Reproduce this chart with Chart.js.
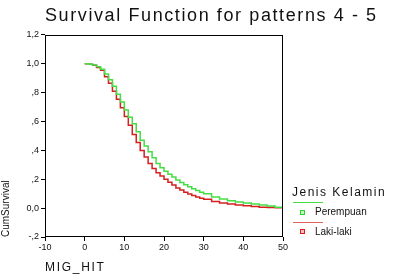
<!DOCTYPE html>
<html>
<head>
<meta charset="UTF-8">
<title>Survival Function</title>
<script src="https://cdn.jsdelivr.net/npm/chart.js"></script>
<style>
    body { margin: 0; background: #fff; }
    .wrap { position: relative; width: 394px; height: 275px; font-family: "Liberation Sans", Arial, sans-serif; }
    canvas { position: absolute; left: 0; top: 0; }
    .title { position: absolute; left: 45px; top: 5px; font-size: 18px; color: #111; white-space: nowrap; letter-spacing: 1.6px; }
    .x-title { position: absolute; left: 45px; top: 260px; font-size: 12px; color: #111; white-space: nowrap; letter-spacing: 1.7px; }
    .leg-title { position: absolute; left: 292px; top: 185px; font-size: 12px; color: #111; white-space: nowrap; letter-spacing: 1.5px; }
    .leg-line { position: absolute; left: 293px; width: 30px; height: 0; border-top: 1.5px solid; }
    .leg-box { position: absolute; left: 300px; width: 3px; height: 3px; border: 1px solid; }
    .leg-text { position: absolute; left: 315px; font-size: 10px; color: #111; white-space: nowrap; }
</style>
</head>
<body>
<div class="wrap">
    <canvas id="survChart" width="394" height="275"></canvas>
    <div class="title">Survival Function for patterns 4 - 5</div>
    <div class="x-title">MIG_HIT</div>
    <div class="leg-title">Jenis Kelamin</div>
    <div class="leg-line" style="top:202px; border-color:#44dd44"></div>
    <div class="leg-box" style="top:210px; border-color:#33cc33; background:#bbffbb"></div>
    <div class="leg-text" style="top:206px">Perempuan</div>
    <div class="leg-line" style="top:222px; border-color:#e06060"></div>
    <div class="leg-box" style="top:229px; border-color:#d42020; background:#ffbbbb"></div>
    <div class="leg-text" style="top:226px">Laki-laki</div>
</div>
<script>
    // waktu (MIG_HIT)
    const waktu = [0, 1, 2, 3, 4, 5, 6, 7, 8, 9, 10, 11, 12, 13, 14, 15, 16, 17, 18, 19, 20,
        21, 22, 23, 24, 25, 26, 27, 28, 29, 30, 32, 34, 36, 38, 40, 42, 44, 46, 48, 50];

    // Cum Survival per kelompok
    const perempuan = [1.0, 0.998, 0.992, 0.98, 0.962, 0.93, 0.89, 0.845, 0.79, 0.735, 0.68,
        0.63, 0.585, 0.53, 0.47, 0.43, 0.39, 0.35, 0.31, 0.28, 0.255,
        0.235, 0.215, 0.195, 0.178, 0.162, 0.148, 0.135, 0.122, 0.11, 0.1,
        0.078, 0.063, 0.052, 0.043, 0.035, 0.028, 0.021, 0.014, 0.006, 0.0];
    const lakiLaki = [1.0, 0.997, 0.99, 0.975, 0.955, 0.91, 0.865, 0.81, 0.755, 0.695, 0.635,
        0.575, 0.51, 0.455, 0.4, 0.355, 0.31, 0.275, 0.245, 0.222, 0.2,
        0.18, 0.16, 0.14, 0.125, 0.11, 0.098, 0.088, 0.078, 0.068, 0.062,
        0.046, 0.036, 0.028, 0.021, 0.016, 0.011, 0.006, 0.004, 0.002, 0.0];

    const xTicks = [-10, 0, 10, 20, 30, 40, 50];
    const yTicks = ['-,2', '0,0', ',2', ',4', ',6', ',8', '1,0', '1,2'];

    const toPoints = (ys) => waktu.map((t, i) => ({ x: t, y: ys[i] }));

    const frame = {
        id: 'frame',
        afterDraw(chart) {
            const a = chart.chartArea;
            const ctx = chart.ctx;
            ctx.save();
            ctx.strokeStyle = '#000';
            ctx.lineWidth = 1;
            ctx.strokeRect(a.left + 0.5, a.top + 0.5, a.right - a.left - 1, a.bottom - a.top - 1);
            ctx.restore();
        }
    };

    new Chart(document.getElementById('survChart'), {
        type: 'line',
        data: {
            datasets: [{
                label: 'Perempuan',
                data: toPoints(perempuan),
                borderColor: '#44dd44',
                borderWidth: 1.5,
                pointRadius: 0,
                stepped: true,
                fill: false
            }, {
                label: 'Laki-laki',
                data: toPoints(lakiLaki),
                borderColor: '#d42020',
                borderWidth: 1.5,
                pointRadius: 0,
                stepped: true,
                fill: false
            }]
        },
        options: {
            responsive: false,
            animation: false,
            layout: { padding: { top: 35, right: 111, left: 0, bottom: 0 } },
            plugins: { legend: { display: false }, tooltip: { enabled: false } },
            scales: {
                x: {
                    type: 'linear',
                    min: -10, max: 50,
                    afterBuildTicks: (s) => { s.ticks = xTicks.map(v => ({ value: v })); },
                    afterFit: (s) => { s.height = 38; },
                    grid: { display: true, drawOnChartArea: false, tickLength: 4, color: '#000' },
                    border: { display: false },
                    ticks: { color: '#111', font: { family: 'Liberation Sans', size: 9 }, padding: 1, maxRotation: 0 }
                },
                y: {
                    min: -0.2, max: 1.2,
                    afterBuildTicks: (s) => { s.ticks = yTicks.map((t, i) => ({ value: -0.2 + i * 0.2 })); },
                    afterFit: (s) => { s.width = 45; },
                    grid: { display: true, drawOnChartArea: false, tickLength: 4, color: '#000' },
                    border: { display: false },
                    ticks: {
                        color: '#111', font: { family: 'Liberation Sans', size: 9 }, padding: 2,
                        callback: (v, i) => yTicks[i]
                    },
                    title: {
                        display: true, text: 'CumSurvival', align: 'start', color: '#111',
                        font: { family: 'Liberation Sans', size: 10 }, padding: 0
                    }
                }
            }
        },
        plugins: [frame]
    });
</script>
</body>
</html>
